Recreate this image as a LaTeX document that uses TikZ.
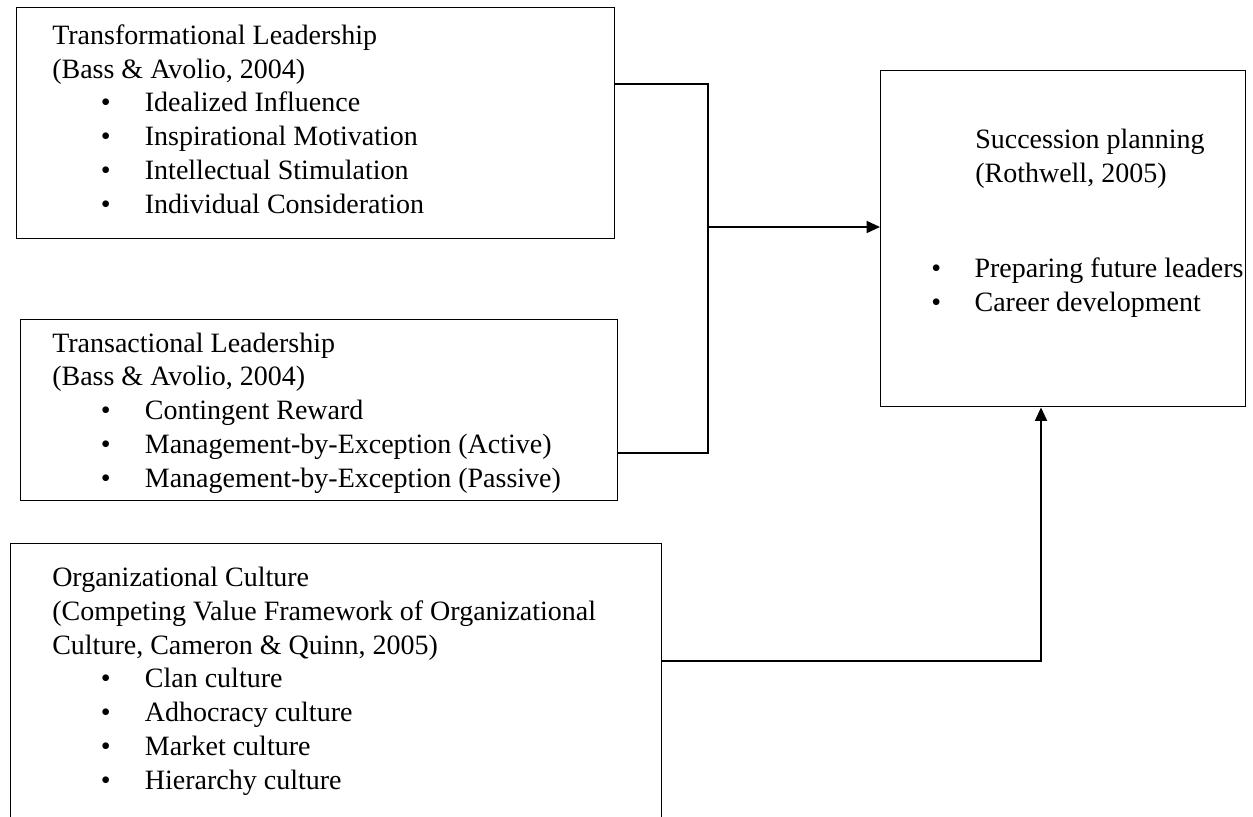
\documentclass[tikz,border=0pt]{standalone}
\usepackage{fontspec}
\setmainfont{Liberation Serif}
\usetikzlibrary{arrows.meta, positioning}

\tikzset{
  frame/.style={draw, line width=1.1pt, inner sep=0pt, anchor=north west},
  blurb/.style={anchor=base west, inner sep=0pt, align=left, font=\fontsize{21}{25.3}\selectfont},
  link/.style={line width=1.1pt},
  tip/.style={link, -{Triangle[length=10pt,width=9pt]}},
}
% bullet line inside a frame
\newcommand{\bul}[1]{\hspace*{36.5pt}\makebox[33pt][l]{\textbullet}#1}

\begin{document}
\begin{tikzpicture}[x=0.75pt,y=0.75pt,yscale=-1,xscale=1]
\path[use as bounding box, clip] (0,0) rectangle (1253,817);

%Frames
\node[frame, minimum width=448.5pt, minimum height=173.25pt] (tf) at (16,7) {};
\node[frame, minimum width=447.75pt, minimum height=135.75pt] (ta) at (20,319) {};
\node[frame, minimum width=488.25pt, minimum height=215.25pt] (oc) at (10,543) {};
\node[frame, minimum width=273.75pt, minimum height=252pt] (sp) at (880,70) {};

%Texts (placed by the baseline of their last line)
\node[blurb] (tftext) at (52,213) {Transformational Leadership\\(Bass \& Avolio, 2004)\\
  \bul{Idealized Influence}\\\bul{Inspirational Motivation}\\
  \bul{Intellectual Stimulation}\\\bul{Individual Consideration}};
\node[blurb] (tatext) at (52,487) {Transactional Leadership\\(Bass \& Avolio, 2004)\\
  \bul{Contingent Reward}\\\bul{Management-by-Exception (Active)}\\
  \bul{Management-by-Exception (Passive)}};
\node[blurb] (octext) at (52,789) {Organizational Culture\\
  (Competing Value Framework of Organizational\\Culture, Cameron \& Quinn, 2005)\\
  \bul{Clan culture}\\\bul{Adhocracy culture}\\\bul{Market culture}\\\bul{Hierarchy culture}};
\node[blurb] (sptitle) at (975,182) {Succession planning\\(Rothwell, 2005)};
\node[blurb] (splist) at (931,311) {\makebox[32.5pt][l]{\textbullet}Preparing future leaders\\
  \makebox[32.5pt][l]{\textbullet}Career development};

%Connectors
\coordinate (j1) at (708,84);
\coordinate (j2) at (708,453);
\coordinate (jm) at (708,227);
\coordinate (k) at (1041,661);
\draw[link] (tf.east |- j1) -- (j1) -- (j2) -- (ta.east |- j2);
\draw[tip] (jm) -- (sp.west |- jm);
\draw[tip] (oc.east |- k) -- (k) -- (sp.south -| k);

\end{tikzpicture}
\end{document}
